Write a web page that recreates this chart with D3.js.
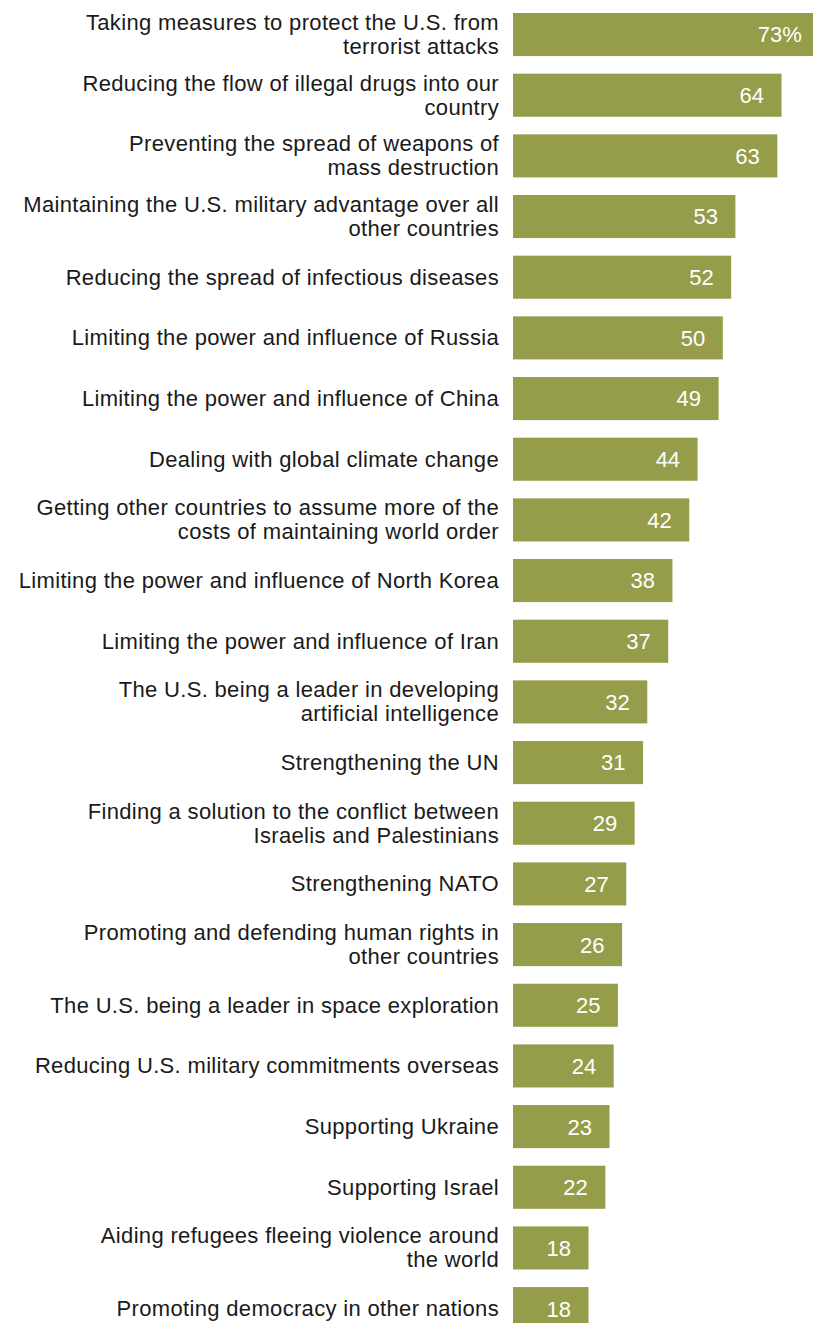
<!DOCTYPE html>
<html lang="en">
<head>
  <meta charset="UTF-8">
  <script src="https://cdn.jsdelivr.net/npm/d3@7"></script>
  <title>Foreign policy priorities</title>
  <style>
    body { margin: 0; background: #fff; }
    svg text { font-family: "Liberation Sans", Arial, sans-serif; }
  </style>
</head>
<body>
  <svg width="813" height="1323" id="chart"></svg>
  <script>
    // categories, "|" marks a line break
    let categories = [
      "Taking measures to protect the U.S. from|terrorist attacks",
      "Reducing the flow of illegal drugs into our|country",
      "Preventing the spread of weapons of|mass destruction",
      "Maintaining the U.S. military advantage over all|other countries",
      "Reducing the spread of infectious diseases",
      "Limiting the power and influence of Russia",
      "Limiting the power and influence of China",
      "Dealing with global climate change",
      "Getting other countries to assume more of the|costs of maintaining world order",
      "Limiting the power and influence of North Korea",
      "Limiting the power and influence of Iran",
      "The U.S. being a leader in developing|artificial intelligence",
      "Strengthening the UN",
      "Finding a solution to the conflict between|Israelis and Palestinians",
      "Strengthening NATO",
      "Promoting and defending human rights in|other countries",
      "The U.S. being a leader in space exploration",
      "Reducing U.S. military commitments overseas",
      "Supporting Ukraine",
      "Supporting Israel",
      "Aiding refugees fleeing violence around|the world",
      "Promoting democracy in other nations"
    ];
    let values = [73, 64, 63, 53, 52, 50, 49, 44, 42, 38, 37, 32, 31, 29, 27, 26, 25, 24, 23, 22, 18, 18];
    let valueLabels = ["73%", "64", "63", "53", "52", "50", "49", "44", "42", "38", "37", "32", "31", "29", "27", "26", "25", "24", "23", "22", "18", "18"];

    let svg = d3.select("#chart");
    let data = categories.map((c, i) => ({ cat: c, value: values[i], label: valueLabels[i] }));

    /* SCALES */
    let barLeft = 513;
    let step = 60.67;
    let scaleX = d3.scaleLinear()
      .domain([0, 73])
      .range([barLeft, barLeft + 73 * 4.196]);
    let scaleY = d3.scaleBand()
      .domain(categories)
      .range([13 - 0.145 * step, 13 - 0.145 * step + categories.length * step])
      .paddingInner(0.29)
      .paddingOuter(0.145);

    let rows = svg.selectAll("g.row")
      .data(data)
      .enter()
      .append("g")
      .attr("class", "row");

    // bars
    rows.append("rect")
      .attr("x", scaleX(0))
      .attr("y", d => scaleY(d.cat))
      .attr("width", d => scaleX(d.value) - scaleX(0))
      .attr("height", scaleY.bandwidth())
      .attr("fill", "#959d4a");

    // value labels inside bars
    rows.append("text")
      .attr("x", d => scaleX(d.value) - 17.5)
      .attr("y", d => scaleY(d.cat) + scaleY.bandwidth() / 2)
      .attr("dy", "0.36em")
      .attr("text-anchor", "end")
      .attr("fill", "#fff")
      .style("font-size", "22px")
      .text(d => d.label);

    // category labels
    let lineH = 24;
    rows.append("text")
      .attr("text-anchor", "end")
      .attr("fill", "#1a1a1a")
      .style("font-size", "22px")
      .style("letter-spacing", "0.33px")
      .each(function (d) {
        let lines = d.cat.split("|");
        let mid = scaleY(d.cat) + scaleY.bandwidth() / 2;
        let first = mid + 7.5 - (lines.length - 1) * lineH / 2;
        d3.select(this).selectAll("tspan")
          .data(lines)
          .enter()
          .append("tspan")
          .attr("x", 499)
          .attr("y", (l, j) => first + j * lineH)
          .text(l => l);
      });
  </script>
</body>
</html>
